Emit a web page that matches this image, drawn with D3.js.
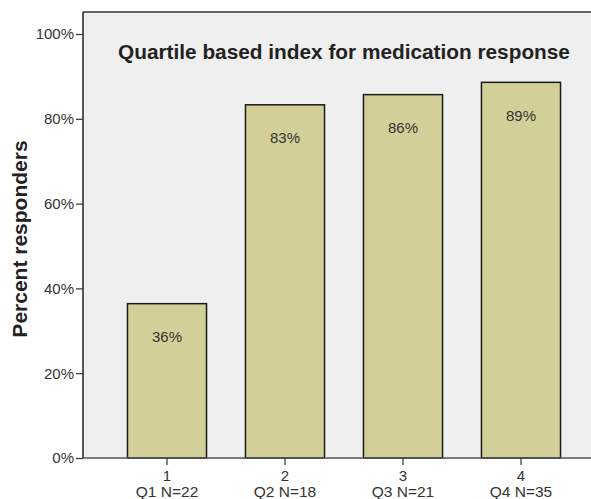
<!DOCTYPE html>
<html>
<head>
<meta charset="utf-8">
<script src="https://cdn.jsdelivr.net/npm/d3@7"></script>
<style>
  body { margin: 0; background: #fff; }
  text { font-family: "Liberation Sans", Arial, sans-serif; }
</style>
</head>
<body>
<div id="main"></div>
<script>
// data
const groups = ["1", "2", "3", "4"];
const groupNames = ["Q1 N=22", "Q2 N=18", "Q3 N=21", "Q4 N=35"];
const percents = [36.4, 83.3, 85.7, 88.6];
const yTicks = [0, 20, 40, 60, 80, 100];
const title = "Quartile based index for medication response";

const w = 591;
const h = 499;
const plotLeft = 83;
const plotRight = 605;   // plot area runs past the window edge
const plotTop = 12;
const plotBottom = 458;

const svg = d3.select("#main").append("svg").attr("width", w).attr("height", h);

const yScale = d3.scaleLinear().domain([0, 100]).range([plotBottom, 34]);
const xScale = d3.scaleBand()
    .domain(groups)
    .range([plotLeft, plotRight])
    .paddingInner(0.33)
    .paddingOuter(0.377);

// plot background
svg.append("rect")
    .attr("x", plotLeft)
    .attr("y", plotTop)
    .attr("width", plotRight - plotLeft)
    .attr("height", plotBottom - plotTop)
    .style("fill", "#efefef");

svg.append("line")
    .attr("x1", plotLeft).attr("x2", plotRight)
    .attr("y1", plotTop).attr("y2", plotTop)
    .style("stroke", "#333").style("stroke-width", 1.5);

// bars
svg.selectAll("rect.bar")
    .data(percents)
    .enter()
    .append("rect")
    .attr("class", "bar")
    .attr("x", (d, i) => xScale(groups[i]))
    .attr("y", (d) => yScale(d))
    .attr("width", xScale.bandwidth())
    .attr("height", (d) => plotBottom - yScale(d))
    .style("fill", "#d3cf98")
    .style("stroke", "#1a1a1a")
    .style("stroke-width", 1.5);

svg.selectAll("text.barlabel")
    .data(percents)
    .enter()
    .append("text")
    .attr("class", "barlabel")
    .attr("x", (d, i) => xScale(groups[i]) + xScale.bandwidth() / 2)
    .attr("y", (d) => yScale(d) + 33)
    .attr("dy", "0.35em")
    .style("text-anchor", "middle")
    .style("font-size", "15px")
    .style("fill", "#333")
    .text((d) => Math.round(d) + "%");

// axes
const yAxis = d3.axisLeft(yScale)
    .tickValues(yTicks)
    .tickSize(7)
    .tickPadding(2)
    .tickFormat((d) => d + "%");

const yG = svg.append("g")
    .attr("transform", "translate(" + plotLeft + ",0)")
    .call(yAxis);
yG.select(".domain").attr("d", "M0," + plotTop + "V" + plotBottom).style("stroke", "#222").style("stroke-width", 1.5);
yG.selectAll(".tick line").style("stroke", "#333").style("stroke-width", 1.2);
yG.selectAll(".tick text").style("font-size", "15px").style("fill", "#333")
    .style("font-family", "'Liberation Sans', Arial, sans-serif");

const xAxis = d3.axisBottom(xScale).tickSize(7).tickPadding(5);
const xG = svg.append("g")
    .attr("transform", "translate(0," + plotBottom + ")")
    .call(xAxis);
xG.select(".domain").attr("d", "M" + plotLeft + ",0H" + plotRight).style("stroke", "#555").style("stroke-width", 1.5);
xG.selectAll(".tick line").style("stroke", "#333").style("stroke-width", 1.2);
xG.selectAll(".tick text").style("font-size", "15px").style("fill", "#333")
    .style("font-family", "'Liberation Sans', Arial, sans-serif");
xG.selectAll(".tick").append("text")
    .attr("y", 28)
    .attr("dy", "0.71em")
    .style("text-anchor", "middle")
    .style("font-size", "15.5px")
    .style("fill", "#333")
    .style("font-family", "'Liberation Sans', Arial, sans-serif")
    .text((d, i) => groupNames[i]);

// title and axis label
svg.append("text")
    .attr("x", 344)
    .attr("y", 59)
    .style("text-anchor", "middle")
    .style("font-size", "20.8px")
    .style("font-weight", "bold")
    .style("fill", "#222")
    .text(title);

svg.append("text")
    .attr("transform", "rotate(-90)")
    .attr("x", -239)
    .attr("y", 27)
    .style("text-anchor", "middle")
    .style("font-size", "21px")
    .style("font-weight", "bold")
    .style("fill", "#222")
    .text("Percent responders");
</script>
</body>
</html>
